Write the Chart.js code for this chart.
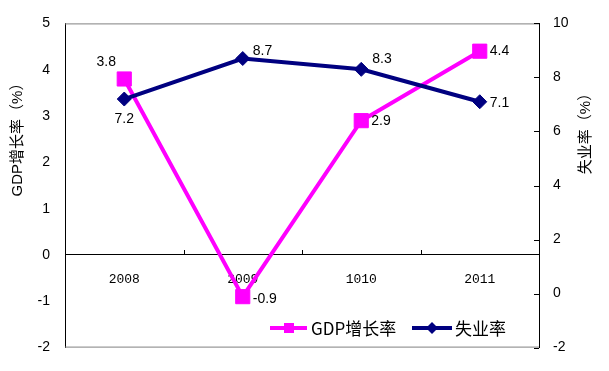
<!DOCTYPE html>
<html>
<head>
<meta charset="utf-8">
<script src="https://cdn.jsdelivr.net/npm/chart.js@4.4.1/dist/chart.umd.min.js"></script>
<style>
  html, body { margin: 0; padding: 0; background: #fff; }
</style>
</head>
<body>
<canvas id="chart" width="609" height="371"></canvas>
<script>
// Chart data
const years = ["2008", "2009", "1010", "2011"];
const gdpGrowth = [3.8, -0.9, 2.9, 4.4];
const unemployment = [7.2, 8.7, 8.3, 7.1];
const gdpAxisRange = [-2, 5];
const unemploymentAxisRange = [-2, 10];

const GDP_COLOR = "#FF00FF";
const UNEMP_COLOR = "#000080";
const NUM_FONT = "14px 'Liberation Sans', Arial, sans-serif";
const CJK_FONT = "'Liberation Sans', 'Noto Sans CJK SC', sans-serif";

// label offsets per point: [dx, dy, align]
const gdpLabelPos = [[-18, -17, "center"], [10, 2, "left"], [10, 0, "left"], [10, 0, "left"]];
const unempLabelPos = [[0, 20, "center"], [10, -7, "left"], [11, -10, "left"], [10, 1, "left"]];

const decorations = {
  id: "decorations",
  beforeDatasetsDraw(chart) {
    const { ctx, chartArea: a, scales } = chart;
    ctx.save();
    ctx.lineWidth = 1;

    // grey frame top and bottom
    ctx.strokeStyle = "#808080";
    ctx.beginPath();
    ctx.moveTo(a.left, a.top + 0.5);
    ctx.lineTo(a.right, a.top + 0.5);
    ctx.moveTo(a.left, a.bottom - 0.5);
    ctx.lineTo(a.right, a.bottom - 0.5);
    ctx.stroke();

    // category separators pointing up from the zero line
    ctx.strokeStyle = "#000";
    const xs = scales.x;
    const y0 = Math.round(scales.y.getPixelForValue(0));
    ctx.beginPath();
    for (let i = 1; i < years.length; i++) {
      const px = Math.round((xs.getPixelForValue(i - 1) + xs.getPixelForValue(i)) / 2) + 0.5;
      ctx.moveTo(px, y0);
      ctx.lineTo(px, y0 - 5);
    }
    // right axis ticks pointing inward
    scales.y1.ticks.forEach(t => {
      const py = Math.round(scales.y1.getPixelForValue(t.value)) + 0.5;
      ctx.moveTo(a.right, py);
      ctx.lineTo(a.right - 5, py);
    });
    ctx.stroke();
    ctx.restore();
  },
  afterDraw(chart) {
    const { ctx } = chart;
    ctx.save();
    ctx.fillStyle = "#000";

    // data labels
    ctx.font = NUM_FONT;
    ctx.textBaseline = "middle";
    const drawLabels = (idx, values, pos) => {
      chart.getDatasetMeta(idx).data.forEach((pt, i) => {
        const [dx, dy, align] = pos[i];
        ctx.textAlign = align;
        ctx.fillText(String(values[i]), pt.x + dx, pt.y + dy);
      });
    };
    drawLabels(0, gdpGrowth, gdpLabelPos);
    drawLabels(1, unemployment, unempLabelPos);

    // axis titles (both read bottom to top)
    ctx.font = "15px " + CJK_FONT;
    ctx.textAlign = "center";
    [["GDP增长率（%）", 18, 136], ["失业率（%）", 586, 130]].forEach(([txt, x, y]) => {
      ctx.save();
      ctx.translate(x, y);
      ctx.rotate(-Math.PI / 2);
      ctx.fillText(txt, 0, 0);
      ctx.restore();
    });

    // legend inside the plot
    const ly = 328;
    ctx.font = "17px 'Noto Sans CJK SC', sans-serif";
    ctx.textAlign = "left";
    ctx.lineWidth = 4;
    ctx.strokeStyle = GDP_COLOR;
    ctx.beginPath(); ctx.moveTo(270, ly); ctx.lineTo(307, ly); ctx.stroke();
    ctx.fillStyle = GDP_COLOR;
    ctx.fillRect(284, ly - 5, 10, 10);
    ctx.fillStyle = "#000";
    ctx.fillText(chart.data.datasets[0].label, 311, ly + 1);

    ctx.strokeStyle = UNEMP_COLOR;
    ctx.beginPath(); ctx.moveTo(412, ly); ctx.lineTo(452, ly); ctx.stroke();
    ctx.fillStyle = UNEMP_COLOR;
    ctx.beginPath();
    ctx.moveTo(432, ly - 6); ctx.lineTo(438, ly); ctx.lineTo(432, ly + 6); ctx.lineTo(426, ly);
    ctx.closePath(); ctx.fill();
    ctx.fillStyle = "#000";
    ctx.fillText(chart.data.datasets[1].label, 455, ly + 1);
    ctx.restore();
  }
};

new Chart(document.getElementById("chart"), {
  type: "line",
  data: {
    labels: years,
    datasets: [
      {
        label: "GDP增长率",
        data: gdpGrowth,
        yAxisID: "y",
        borderColor: GDP_COLOR,
        backgroundColor: GDP_COLOR,
        borderWidth: 4,
        pointStyle: "rect",
        pointRadius: 10,
        pointBorderWidth: 1,
        tension: 0,
        order: 2
      },
      {
        label: "失业率",
        data: unemployment,
        yAxisID: "y1",
        borderColor: UNEMP_COLOR,
        backgroundColor: UNEMP_COLOR,
        borderWidth: 4,
        pointStyle: "rectRot",
        pointRadius: 7,
        pointBorderWidth: 1,
        tension: 0,
        order: 1
      }
    ]
  },
  options: {
    responsive: false,
    animation: false,
    layout: { padding: { top: 20, bottom: 21, left: 0, right: 0 } },
    plugins: {
      legend: { display: false },
      tooltip: { enabled: false }
    },
    scales: {
      x: {
        position: { y: 0 },
        offset: true,
        grid: { display: false, drawTicks: false },
        border: { display: true, color: "#000", width: 1 },
        ticks: {
          color: "#000",
          padding: 17,
          font: { family: "'Liberation Mono', monospace", size: 13 }
        }
      },
      y: {
        position: "left",
        min: gdpAxisRange[0],
        max: gdpAxisRange[1],
        grid: { display: false, drawTicks: false },
        border: { display: true, color: "#000", width: 1 },
        ticks: {
          stepSize: 1,
          color: "#000",
          padding: 15,
          font: { family: "'Liberation Sans', Arial, sans-serif", size: 14 }
        },
        afterFit(scale) { scale.width = 65; }
      },
      y1: {
        position: "right",
        min: unemploymentAxisRange[0],
        max: unemploymentAxisRange[1],
        grid: { display: false, drawTicks: false },
        border: { display: true, color: "#000", width: 1 },
        ticks: {
          stepSize: 2,
          color: "#000",
          padding: 14,
          font: { family: "'Liberation Sans', Arial, sans-serif", size: 14 }
        },
        afterFit(scale) { scale.width = 70; }
      }
    }
  },
  plugins: [decorations]
});
</script>
</body>
</html>
